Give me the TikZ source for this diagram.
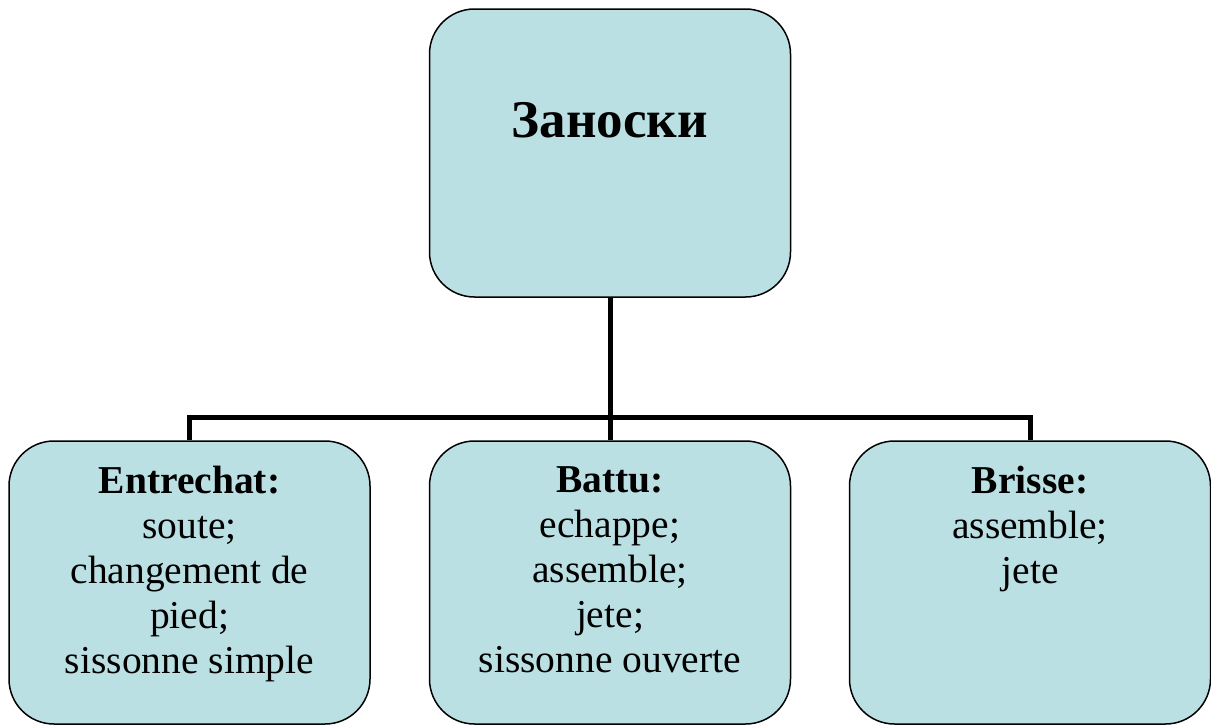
\documentclass[tikz,border=0pt]{standalone}
\usepackage{fontspec}
\setmainfont{Liberation Serif}
\definecolor{boxfill}{RGB}{187,224,227}
\begin{document}
\begin{tikzpicture}[x=1pt,y=-1pt,
  roundbox/.style={draw=black, line width=1.5pt, fill=boxfill,
    rounded corners=45pt, inner sep=0pt, minimum width=361pt},
  titletext/.style={anchor=base, inner sep=0pt,
    font=\bfseries\fontsize{53}{61}\selectfont},
  itemtext/.style={anchor=north, inner sep=0pt, align=center,
    font=\fontsize{39.5}{45}\selectfont},
  link/.style={draw=black, line width=5pt}]
\useasboundingbox (0,0) rectangle (1211,726);

% boxes
\node[roundbox, minimum height=288pt] (top) at (610,153) {};
\node[roundbox, minimum height=283pt] (left) at (189.5,582.5) {};
\node[roundbox, minimum height=283pt] (mid) at (610,582.5) {};
\node[roundbox, minimum height=283pt] (right) at (1030,582.5) {};

% connectors
\coordinate (bus) at (610,417);
\draw[link] (top.south) -- (mid.north);
\draw[link] (left.north) |- (bus) -| (right.north);

% texts
\node[titletext] (ttop) at (610,137) {Заноски};
\node[itemtext] (tleft) at (189.5,466)
  {\textbf{Entrechat:}\\soute;\\changement de\\pied;\\sissonne simple};
\node[itemtext] (tmid) at (610,466)
  {\textbf{Battu:}\\echappe;\\assemble;\\jete;\\sissonne ouverte};
\node[itemtext] (tright) at (1030,466)
  {\textbf{Brisse:}\\assemble;\\jete};
\end{tikzpicture}
\end{document}
